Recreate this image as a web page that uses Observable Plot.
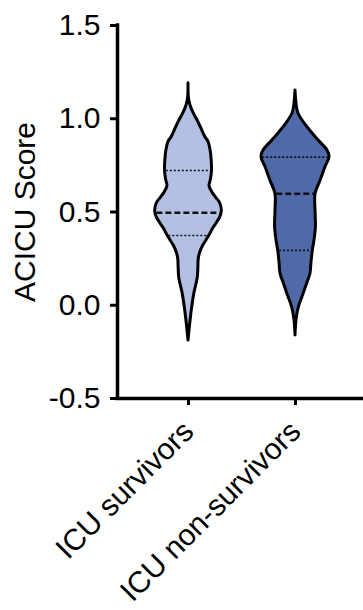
<!DOCTYPE html>
<html>
<head>
<meta charset="utf-8">
<script src="https://cdn.jsdelivr.net/npm/d3@7"></script>
<script src="https://cdn.jsdelivr.net/npm/@observablehq/plot@0.6"></script>
<style>
  html, body { margin: 0; padding: 0; background: #fff; }
  #chart svg { display: block; }
</style>
</head>
<body>
<div id="chart"></div>
<script>
// ---- data ----
const groups = ["ICU survivors", "ICU non-survivors"];
const groupColors = ["#b3c0e4", "#4f69a9"];
const yTicks = [-0.5, 0, 0.5, 1.0, 1.5];

// violin outlines: score value and relative density (half-width, max = 1)
const survivorsValue   = [1.19, 1.10, 1.05, 1.00, 0.955, 0.90, 0.875, 0.83, 0.78, 0.72, 0.675, 0.637, 0.60, 0.575, 0.547, 0.505, 0.47, 0.44, 0.41, 0.375, 0.345, 0.315, 0.28, 0.245, 0.20, 0.145, 0.061, -0.01, -0.083, -0.189];
const survivorsDensity = [0.00, 0.02, 0.10, 0.24, 0.36, 0.50, 0.59, 0.65, 0.68, 0.69, 0.66, 0.62, 0.72, 0.82, 0.93, 0.98, 0.93, 0.83, 0.72, 0.62, 0.52, 0.42, 0.34, 0.30, 0.29, 0.27, 0.17, 0.11, 0.06, 0.00];

const nonSurvivorsValue   = [1.152, 1.08, 1.027, 0.955, 0.883, 0.83, 0.794, 0.74, 0.669, 0.598, 0.50, 0.419, 0.35, 0.294, 0.23, 0.169, 0.11, 0.061, -0.01, -0.08, -0.162];
const nonSurvivorsDensity = [0.00, 0.03, 0.09, 0.35, 0.68, 0.94, 1.00, 0.88, 0.74, 0.59, 0.59, 0.60, 0.56, 0.51, 0.47, 0.44, 0.33, 0.24, 0.10, 0.03, 0.00];

// quartiles: [Q1, median, Q3]
const survivorsQuartiles    = [0.374, 0.496, 0.7225];
const nonSurvivorsQuartiles = [0.294, 0.598, 0.794];

// ---- build tables ----
const profiles = [
  {values: survivorsValue, density: survivorsDensity, quart: survivorsQuartiles},
  {values: nonSurvivorsValue, density: nonSurvivorsDensity, quart: nonSurvivorsQuartiles}
];
const MAXW = 0.318; // half width of the widest part, in x units (one unit = category spacing)

function densityAt(p, v) {
  const vs = p.values, ds = p.density;
  for (let i = 0; i < vs.length - 1; i++) {
    const a = vs[i], b = vs[i + 1];
    if ((v <= a && v >= b)) {
      const t = (a - v) / (a - b);
      return ds[i] + t * (ds[i + 1] - ds[i]);
    }
  }
  return 0;
}

const marks = [];
profiles.forEach((p, gi) => {
  const rows = p.values.map((v, i) => ({g: gi, v, d: p.density[i]}));
  marks.push(Plot.areaX(rows, {
    y: "v",
    x1: r => r.g - r.d * MAXW,
    x2: r => r.g + r.d * MAXW,
    fill: groupColors[gi],
    stroke: "black",
    strokeWidth: 3,
    strokeLinejoin: "round",
    curve: "catmull-rom"
  }));
  const qrows = p.quart.map((v, k) => ({g: gi, v, k, d: densityAt(p, v)}));
  marks.push(Plot.ruleY(qrows.filter(r => r.k !== 1), {
    y: "v",
    x1: r => r.g - r.d * MAXW + 0.012,
    x2: r => r.g + r.d * MAXW - 0.012,
    stroke: "#111",
    strokeWidth: 1.6,
    strokeDasharray: "2,2"
  }));
  marks.push(Plot.ruleY(qrows.filter(r => r.k === 1), {
    y: "v",
    x1: r => r.g - r.d * MAXW + 0.012,
    x2: r => r.g + r.d * MAXW - 0.012,
    stroke: "#111",
    strokeWidth: 2.4,
    strokeDasharray: "6,3"
  }));
});

const xDomain = [-(188 - 117) / 107, 1 + (363 - 295) / 107];

const chart = Plot.plot({
  width: 363,
  height: 610,
  marginLeft: 117,
  marginRight: 0,
  marginTop: 25,
  marginBottom: 212,
  style: {fontFamily: "'Liberation Sans', Arial, sans-serif", fontSize: "30px", color: "black", background: "white", overflow: "visible"},
  x: {domain: xDomain},
  y: {domain: [-0.5, 1.5]},
  marks: [
    ...marks,
    Plot.ruleX([xDomain[0]], {stroke: "black", strokeWidth: 3.5, strokeLinecap: "square"}),
    Plot.ruleY([-0.5], {stroke: "black", strokeWidth: 3.5, strokeLinecap: "square"}),
    Plot.axisY({ticks: yTicks, tickFormat: d => d.toFixed(1), tickSize: 7, tickPadding: 10, strokeWidth: 3, fontSize: 30, label: null}),
    Plot.axisX({ticks: [0, 1], tickFormat: i => groups[i], tickRotate: -45, tickSize: 7, tickPadding: 21, strokeWidth: 3, fontSize: 30, label: null}),
    Plot.text(["ACICU Score"], {frameAnchor: "left", dx: -92, rotate: -90, textAnchor: "middle", fontSize: 30, fill: "black"})
  ]
});
document.getElementById("chart").appendChild(chart);
</script>
</body>
</html>
